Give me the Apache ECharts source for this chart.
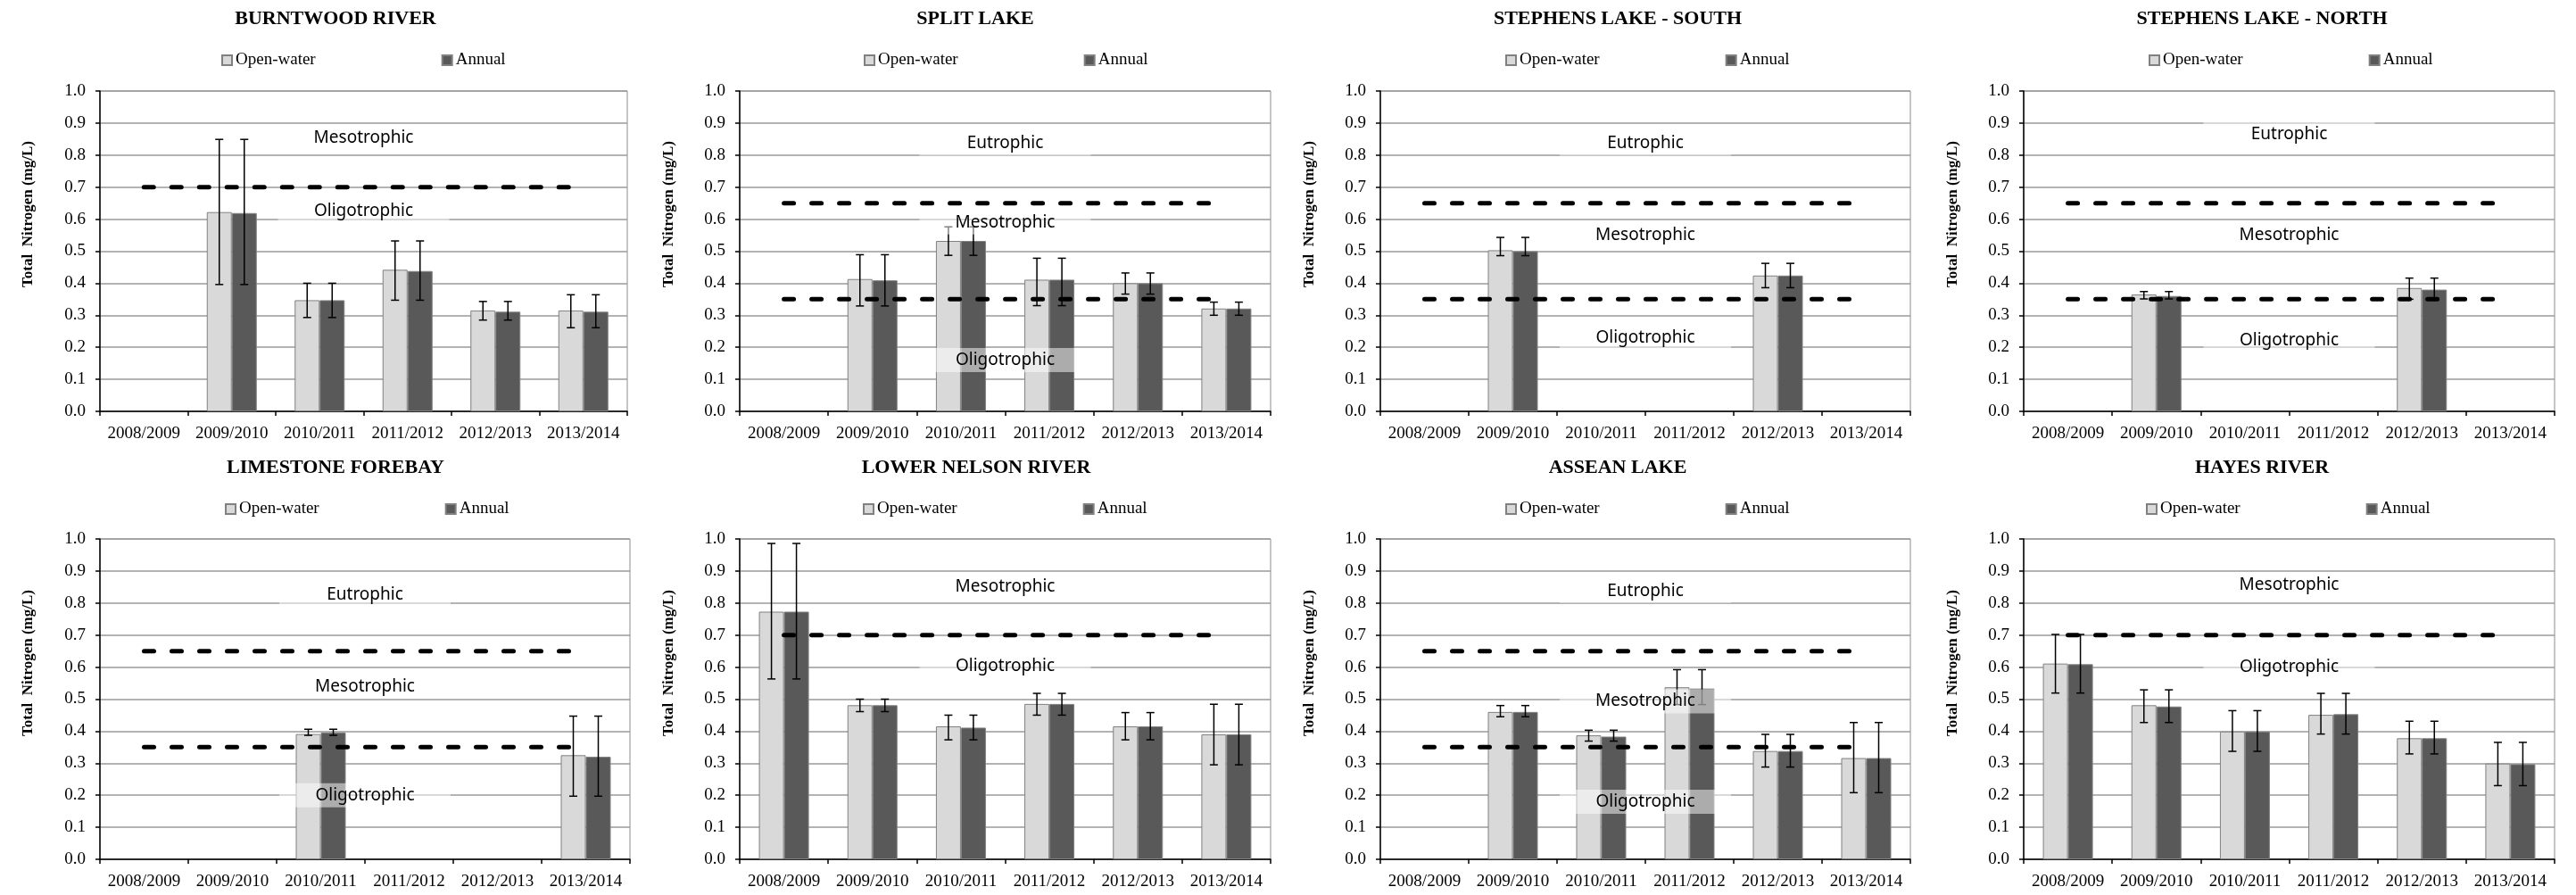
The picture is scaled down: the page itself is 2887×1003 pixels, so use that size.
<!DOCTYPE html>
<html><head><meta charset="utf-8">
<script src="https://cdn.jsdelivr.net/npm/echarts@6/dist/echarts.min.js"></script>
<style>html,body{margin:0;padding:0;background:#fff}#c{width:2887px;height:1003px}</style>
</head><body><div id="c"></div>
<script>
// ---------- DATA ----------
const categories = ['2008/2009', '2009/2010', '2010/2011', '2011/2012', '2012/2013', '2013/2014'];
const seriesNames = ['Open-water', 'Annual'];
const yAxisTitle = 'Total  Nitrogen (mg/L)';

// BURNTWOOD RIVER
const burntwoodOpen    = [null, 0.622, 0.347, 0.442, 0.315, 0.315];
const burntwoodAnnual  = [null, 0.619, 0.347, 0.438, 0.311, 0.311];
const burntwoodErrLow  = [null, 0.396, 0.293, 0.347, 0.285, 0.261];
const burntwoodErrHigh = [null, 0.849, 0.400, 0.532, 0.343, 0.364];
const burntwoodThresholds = [0.7];
const burntwoodZones = ['Mesotrophic', 'Oligotrophic'];

// SPLIT LAKE
const splitOpen    = [null, 0.413, 0.532, 0.411, 0.400, 0.321];
const splitAnnual  = [null, 0.409, 0.532, 0.411, 0.400, 0.321];
const splitErrLow  = [null, 0.329, 0.487, 0.330, 0.366, 0.300];
const splitErrHigh = [null, 0.489, 0.576, 0.478, 0.432, 0.341];
const splitThresholds = [0.65, 0.35];
const splitZones = ['Eutrophic', 'Mesotrophic', 'Oligotrophic'];

// STEPHENS LAKE - SOUTH
const stephensSouthOpen    = [null, 0.503, null, null, 0.424, null];
const stephensSouthAnnual  = [null, 0.500, null, null, 0.424, null];
const stephensSouthErrLow  = [null, 0.486, null, null, 0.386, null];
const stephensSouthErrHigh = [null, 0.543, null, null, 0.462, null];
const stephensSouthThresholds = [0.65, 0.35];
const stephensSouthZones = ['Eutrophic', 'Mesotrophic', 'Oligotrophic'];

// STEPHENS LAKE - NORTH
const stephensNorthOpen    = [null, 0.365, null, null, 0.385, null];
const stephensNorthAnnual  = [null, 0.360, null, null, 0.380, null];
const stephensNorthErrLow  = [null, 0.351, null, null, 0.350, null];
const stephensNorthErrHigh = [null, 0.374, null, null, 0.416, null];
const stephensNorthThresholds = [0.65, 0.35];
const stephensNorthZones = ['Eutrophic', 'Mesotrophic', 'Oligotrophic'];

// LIMESTONE FOREBAY
const limestoneOpen    = [null, null, 0.391, null, null, 0.325];
const limestoneAnnual  = [null, null, 0.396, null, null, 0.320];
const limestoneErrLow  = [null, null, 0.387, null, null, 0.197];
const limestoneErrHigh = [null, null, 0.406, null, null, 0.447];
const limestoneThresholds = [0.65, 0.35];
const limestoneZones = ['Eutrophic', 'Mesotrophic', 'Oligotrophic'];

// LOWER NELSON RIVER
const lowerNelsonOpen    = [0.773, 0.481, 0.415, 0.485, 0.415, 0.390];
const lowerNelsonAnnual  = [0.773, 0.481, 0.411, 0.485, 0.415, 0.390];
const lowerNelsonErrLow  = [0.563, 0.461, 0.373, 0.450, 0.373, 0.295];
const lowerNelsonErrHigh = [0.986, 0.500, 0.450, 0.518, 0.458, 0.484];
const lowerNelsonThresholds = [0.7];
const lowerNelsonZones = ['Mesotrophic', 'Oligotrophic'];

// ASSEAN LAKE
const asseanOpen    = [null, 0.460, 0.387, 0.537, 0.338, 0.316];
const asseanAnnual  = [null, 0.460, 0.383, 0.533, 0.338, 0.316];
const asseanErrLow  = [null, 0.445, 0.369, 0.483, 0.288, 0.208];
const asseanErrHigh = [null, 0.480, 0.403, 0.592, 0.390, 0.427];
const asseanThresholds = [0.65, 0.35];
const asseanZones = ['Eutrophic', 'Mesotrophic', 'Oligotrophic'];

// HAYES RIVER
const hayesOpen    = [0.611, 0.481, 0.399, 0.451, 0.378, 0.299];
const hayesAnnual  = [0.609, 0.477, 0.399, 0.453, 0.378, 0.297];
const hayesErrLow  = [0.519, 0.427, 0.337, 0.391, 0.329, 0.230];
const hayesErrHigh = [0.702, 0.529, 0.464, 0.518, 0.431, 0.365];
const hayesThresholds = [0.7];
const hayesZones = ['Mesotrophic', 'Oligotrophic'];

// ---------- LAYOUT (positions / styles) ----------
const panels = [
  {title:'BURNTWOOD RIVER', open:burntwoodOpen, annual:burntwoodAnnual, lo:burntwoodErrLow, hi:burntwoodErrHigh, thr:burntwoodThresholds, zones:burntwoodZones, zoneY:[0.853,0.625],
   left:112, top:102, w:591, h:359, titleX:376, titleY:22, legendX:248, legendY:64, nameX:32, nameY:240},
  {title:'SPLIT LAKE', open:splitOpen, annual:splitAnnual, lo:splitErrLow, hi:splitErrHigh, thr:splitThresholds, zones:splitZones, zoneY:[0.836,0.59,0.16],
   left:829, top:102, w:595, h:359, titleX:1093, titleY:22, legendX:968, legendY:64, nameX:750, nameY:240},
  {title:'STEPHENS LAKE - SOUTH', open:stephensSouthOpen, annual:stephensSouthAnnual, lo:stephensSouthErrLow, hi:stephensSouthErrHigh, thr:stephensSouthThresholds, zones:stephensSouthZones, zoneY:[0.836,0.55,0.23],
   left:1547, top:102, w:594, h:359, titleX:1813, titleY:22, legendX:1687, legendY:64, nameX:1468, nameY:240},
  {title:'STEPHENS LAKE - NORTH', open:stephensNorthOpen, annual:stephensNorthAnnual, lo:stephensNorthErrLow, hi:stephensNorthErrHigh, thr:stephensNorthThresholds, zones:stephensNorthZones, zoneY:[0.866,0.55,0.22],
   left:2268, top:102, w:595, h:359, titleX:2535, titleY:22, legendX:2408, legendY:64, nameX:2189, nameY:240},
  {title:'LIMESTONE FOREBAY', open:limestoneOpen, annual:limestoneAnnual, lo:limestoneErrLow, hi:limestoneErrHigh, thr:limestoneThresholds, zones:limestoneZones, zoneY:[0.827,0.54,0.20],
   left:112, top:604, w:594, h:359, titleX:376, titleY:525, legendX:252, legendY:567, nameX:32, nameY:743},
  {title:'LOWER NELSON RIVER', open:lowerNelsonOpen, annual:lowerNelsonAnnual, lo:lowerNelsonErrLow, hi:lowerNelsonErrHigh, thr:lowerNelsonThresholds, zones:lowerNelsonZones, zoneY:[0.852,0.604],
   left:829, top:604, w:595, h:359, titleX:1094, titleY:525, legendX:967, legendY:567, nameX:750, nameY:743},
  {title:'ASSEAN LAKE', open:asseanOpen, annual:asseanAnnual, lo:asseanErrLow, hi:asseanErrHigh, thr:asseanThresholds, zones:asseanZones, zoneY:[0.838,0.493,0.18],
   left:1547, top:604, w:594, h:359, titleX:1813, titleY:525, legendX:1687, legendY:567, nameX:1468, nameY:743},
  {title:'HAYES RIVER', open:hayesOpen, annual:hayesAnnual, lo:hayesErrLow, hi:hayesErrHigh, thr:hayesThresholds, zones:hayesZones, zoneY:[0.855,0.60],
   left:2268, top:604, w:595, h:359, titleX:2535, titleY:525, legendX:2405, legendY:567, nameX:2189, nameY:743}
];

const SERIF = '"Liberation Serif", "Times New Roman", serif';
const SANS = '"Noto Sans", "Open Sans", sans-serif';
const BAR_W = 28;

const option = {
  animation: false,
  backgroundColor: '#fff',
  title: [], legend: [], grid: [], xAxis: [], yAxis: [], series: [], graphic: []
};

panels.forEach((p, i) => {
  option.title.push({
    text: p.title, left: p.titleX, top: p.titleY - 12, textAlign: 'center', padding: 0,
    textStyle: {fontFamily: SERIF, fontWeight: 'bold', fontSize: 22, color: '#000'}
  });
  option.legend.push({
    data: seriesNames, left: p.legendX, top: p.legendY - 6, padding: 0, itemGap: 141,
    itemWidth: 11, itemHeight: 11, icon: 'rect', selectedMode: false,
    textStyle: {fontFamily: SERIF, fontSize: 19, color: '#000', padding: [0, 0, 0, -1]}
  });
  option.grid.push({
    left: p.left, top: p.top, width: p.w, height: p.h,
    show: true, borderColor: '#8c8c8c', borderWidth: 1, backgroundColor: 'transparent'
  });
  option.xAxis.push({
    type: 'category', gridIndex: i, data: categories, boundaryGap: true,
    axisLine: {show: true, lineStyle: {color: '#000', width: 1.5}},
    axisTick: {show: true, length: 5, lineStyle: {color: '#000', width: 1.5}},
    axisLabel: {interval: 0, fontFamily: SERIF, fontSize: 19, color: '#000', margin: 16},
    splitLine: {show: false}
  });
  option.yAxis.push({
    type: 'value', gridIndex: i, min: 0, max: 1, interval: 0.1,
    axisLine: {show: true, lineStyle: {color: '#000', width: 1.5}},
    axisTick: {show: true, length: 5, lineStyle: {color: '#000', width: 1.5}},
    axisLabel: {formatter: v => v.toFixed(1), fontFamily: SERIF, fontSize: 19, color: '#000', margin: 16},
    splitLine: {show: true, lineStyle: {color: '#9a9a9a', width: 1.5}}
  });

  // bars
  option.series.push({
    name: seriesNames[0], type: 'bar', xAxisIndex: i, yAxisIndex: i, data: p.open,
    barWidth: BAR_W, barGap: '0%', z: 2,
    itemStyle: {color: '#d9d9d9', borderColor: '#808080', borderWidth: 1}
  });
  option.series.push({
    name: seriesNames[1], type: 'bar', xAxisIndex: i, yAxisIndex: i, data: p.annual,
    barWidth: BAR_W, barGap: '0%', z: 2,
    itemStyle: {color: '#595959', borderColor: '#808080', borderWidth: 1}
  });

  // error bars (same extents for both bars)
  const errData = [];
  categories.forEach((c, k) => { if (p.lo[k] != null) errData.push([k, p.lo[k], p.hi[k]]); });
  [-BAR_W / 2, BAR_W / 2].forEach((off, s) => {
    option.series.push({
      name: 'err' + s, type: 'custom', xAxisIndex: i, yAxisIndex: i, data: errData, z: 3,
      encode: {x: 0, y: [1, 2]},
      renderItem: (params, api) => {
        const k = api.value(0);
        const a = api.coord([k, api.value(1)]);
        const b = api.coord([k, api.value(2)]);
        const x = a[0] + off;
        const st = {stroke: '#000', lineWidth: 1.5};
        return {type: 'group', children: [
          {type: 'line', shape: {x1: x, y1: a[1], x2: x, y2: b[1]}, style: st},
          {type: 'line', shape: {x1: x - 4.5, y1: a[1], x2: x + 4.5, y2: a[1]}, style: st},
          {type: 'line', shape: {x1: x - 4.5, y1: b[1], x2: x + 4.5, y2: b[1]}, style: st}
        ]};
      }
    });
  });

  // trophic zone labels
  option.series.push({
    name: 'zones', type: 'custom', xAxisIndex: i, yAxisIndex: i, z: 4,
    data: p.zoneY.map(y => [2, y]),
    encode: {x: 0, y: 1},
    renderItem: (params, api) => {
      const c = api.coord([api.value(0), api.value(1)]);
      const half = api.size([1, 0])[0] / 2;
      const x = c[0] + half, y = c[1];
      return {type: 'group', children: [
        {type: 'rect', shape: {x: x - 96, y: y - 13.5, width: 192, height: 27}, style: {fill: 'rgba(255,255,255,0.5)'}},
        {type: 'text', style: {x: x, y: y, text: p.zones[params.dataIndex], textAlign: 'center', textVerticalAlign: 'middle',
          fontFamily: SANS, fontSize: 19, fill: '#000'}}
      ]};
    }
  });

  // threshold dashed lines
  p.thr.forEach((t, j) => {
    option.series.push({
      name: 'thr' + j, type: 'line', xAxisIndex: i, yAxisIndex: i, z: 5,
      data: categories.map(() => t), symbol: 'none', silent: true,
      lineStyle: {color: '#000', width: 5, type: [11, 20], cap: 'round'}
    });
  });

  // y-axis title
  option.graphic.push({
    type: 'text', x: p.nameX, y: p.nameY, rotation: Math.PI / 2,
    style: {text: yAxisTitle, textAlign: 'center', textVerticalAlign: 'middle',
      fontFamily: SERIF, fontWeight: 'bold', fontSize: 17, fill: '#000'}
  });
});

const chart = echarts.init(document.getElementById('c'), null, {renderer: 'canvas'});
chart.setOption(option);
</script>
</body></html>
